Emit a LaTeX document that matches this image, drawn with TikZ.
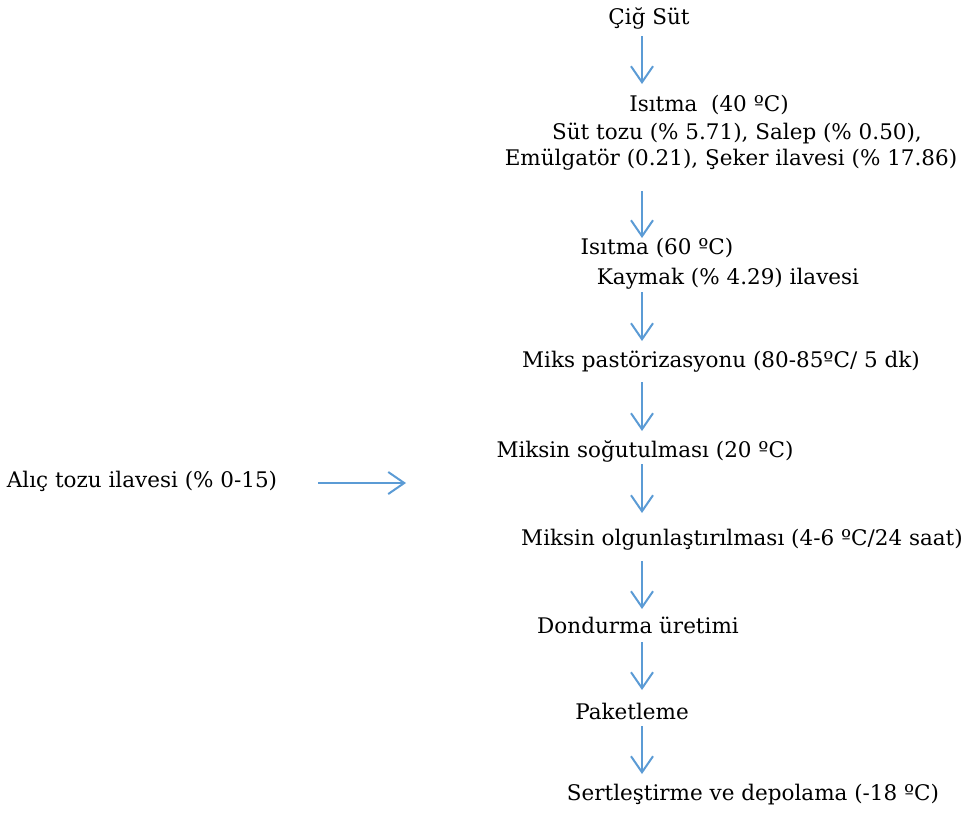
\documentclass[tikz,border=0pt]{standalone}
\usepackage{fontspec}
\setmainfont{DejaVu Serif}
\usetikzlibrary{arrows.meta}
\definecolor{flowblue}{RGB}{91,155,213}
\tikzset{
  lbl/.style={inner sep=0pt, anchor=center, font=\fontsize{21.5}{26}\selectfont},
  flowarrow/.style={draw=flowblue, line width=2pt, -{Straight Barb[length=16pt,width=22pt,line width=2pt]}}
}
\begin{document}
\begin{tikzpicture}[x=1pt,y=-1pt]
\useasboundingbox (0,0) rectangle (973,812);
\node[lbl] (cig) at (649,18) {Çiğ Süt};
\node[lbl] (isi40) at (709,105) {Isıtma\ \ (40 ºC)};
\node[lbl] (sut) at (737,133) {Süt tozu (\% 5.71), Salep (\% 0.50),};
\node[lbl] (emu) at (731,160) {Emülgatör (0.21), Şeker ilavesi (\% 17.86)};
\node[lbl] (isi60) at (657,248) {Isıtma (60 ºC)};
\node[lbl] (kay) at (728,279) {Kaymak (\% 4.29) ilavesi};
\node[lbl] (past) at (721,362) {Miks pastörizasyonu (80-85ºC/ 5 dk)};
\node[lbl] (sog) at (645,451) {Miksin soğutulması (20 ºC)};
\node[lbl] (alic) at (142,481) {Alıç tozu ilavesi (\% 0-15)};
\node[lbl] (olg) at (742,540) {Miksin olgunlaştırılması (4-6 ºC/24 saat)};
\node[lbl] (don) at (638,625) {Dondurma üretimi};
\node[lbl] (pak) at (632,711) {Paketleme};
\node[lbl] (ser) at (753,795) {Sertleştirme ve depolama (-18 ºC)};
% arrow end points
\coordinate (a1s) at (642,36);  \coordinate (a1e) at (642,84);
\coordinate (a2s) at (642,191); \coordinate (a2e) at (642,238);
\coordinate (a3s) at (642,292); \coordinate (a3e) at (642,341);
\coordinate (a4s) at (642,382); \coordinate (a4e) at (642,431);
\coordinate (a5s) at (642,464); \coordinate (a5e) at (642,513);
\coordinate (a6s) at (642,561); \coordinate (a6e) at (642,609);
\coordinate (a7s) at (642,642); \coordinate (a7e) at (642,690);
\coordinate (a8s) at (642,726); \coordinate (a8e) at (642,774);
\coordinate (ls) at (318,483);  \coordinate (le) at (406,483);
\foreach \i in {1,...,8} {\draw[flowarrow] (a\i s) -- (a\i e);}
\draw[flowarrow] (ls) -- (le);
\end{tikzpicture}
\end{document}
